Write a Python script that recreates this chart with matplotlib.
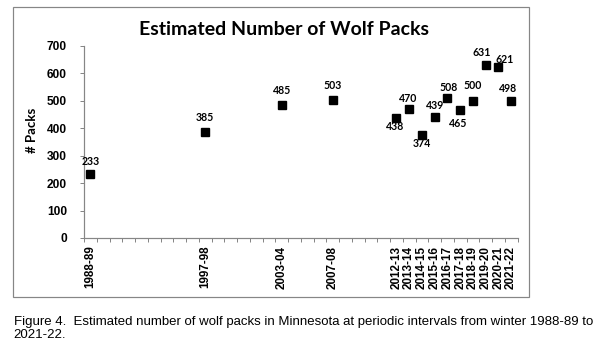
import matplotlib
matplotlib.use("Agg")
import matplotlib.pyplot as plt
from matplotlib.patches import Rectangle
from matplotlib import font_manager

# ---- data ----
seasons = [f"{y}-{str(y + 1)[-2:]}" for y in range(1988, 2022)]
labeled_seasons = ["1988-89", "1997-98", "2003-04", "2007-08", "2012-13", "2013-14",
                   "2014-15", "2015-16", "2016-17", "2017-18", "2018-19", "2019-20",
                   "2020-21", "2021-22"]
packs = [233, 385, 485, 503, 438, 470, 374, 439, 508, 465, 500, 631, 621, 498]

title = "Estimated Number of Wolf Packs"
ylabel = "# Packs"
caption = ("Figure 4.  Estimated number of wolf packs in Minnesota at periodic intervals from winter 1988-89 to\n"
           "2021-22.")

# label offsets in pixels (dx, dy; negative dy = above)
label_offsets = [(0, -12.3), (0, -14.7), (0, -14.3), (0, -14.7), (-1.3, 9.3), (-1.3, -10.3),
                 (-0.4, 8.7), (0, -11.7), (1.3, -11), (-2, 13.3), (0, -15.3), (-3.7, -11.7),
                 (6, -8.3), (-2.7, -12.7)]

W, H, DPI = 607, 362, 100
fig = plt.figure(figsize=(W / DPI, H / DPI), dpi=DPI)

avail = {f.name for f in font_manager.fontManager.ttflist}
calib = "Lato" if "Lato" in avail else "DejaVu Sans"
arial = "Liberation Sans"
narrow = "Liberation Sans Narrow" if "Liberation Sans Narrow" in avail else "Liberation Sans"

def px(v):
    return v * 72.0 / DPI

# outer frame
fig.patches.append(Rectangle((13.3 / W, 1 - 296.7 / H), (529.3 - 13.3) / W, (296.7 - 7.3) / H,
                             transform=fig.transFigure, fill=False, edgecolor="#868686",
                             linewidth=px(1.2)))

x0, x1, y0, y1 = 84, 517.5, 238, 45.7
ax = fig.add_axes([x0 / W, 1 - y0 / H, (x1 - x0) / W, (y0 - y1) / H])

xpos = [seasons.index(s) for s in labeled_seasons]
ax.plot(xpos, packs, linestyle="none", marker="s", markersize=px(8.7), color="black")

ax.set_xlim(-0.5, len(seasons) - 0.5)
ax.set_ylim(0, 700)
ax.set_yticks(range(0, 701, 100))
ax.set_xticks(xpos)
ax.set_xticklabels(labeled_seasons, rotation=90, fontfamily=arial, fontweight="bold", fontsize=8.4)
ax.set_xticks([i - 0.5 for i in range(len(seasons) + 1)], minor=True)
ax.tick_params(axis="x", which="major", length=0, pad=px(7.7))
ax.tick_params(axis="x", which="minor", length=px(3.5), color="#868686", width=px(1))
ax.tick_params(axis="y", length=px(4), color="#868686", width=px(1), pad=px(13))
for lab in ax.get_yticklabels():
    lab.set_fontfamily(arial)
    lab.set_fontweight("bold")
    lab.set_fontsize(8.6)

for s in ["top", "right"]:
    ax.spines[s].set_visible(False)
for s in ["left", "bottom"]:
    ax.spines[s].set_color("#868686")
    ax.spines[s].set_linewidth(px(1.2))

for x, v, (dx, dy) in zip(xpos, packs, label_offsets):
    ax.annotate(str(v), (x, v), xytext=(px(dx), -px(dy)), textcoords="offset points",
                ha="center", va="center", fontfamily=calib, fontweight="bold", fontsize=7.6)

fig.text(284 / W, 1 - 29.5 / H, title, ha="center", va="center", fontfamily=calib,
         fontweight="bold", fontsize=14)
fig.text(32.5 / W, 1 - 130 / H, ylabel, ha="center", va="center", rotation=90,
         fontfamily=calib, fontweight="bold", fontsize=9.5)
fig.text(13.5 / W, 1 - 316 / H, caption, ha="left", va="top", fontfamily=narrow,
         fontsize=9.5, linespacing=1.14)

fig.savefig("out.png", dpi=DPI)
